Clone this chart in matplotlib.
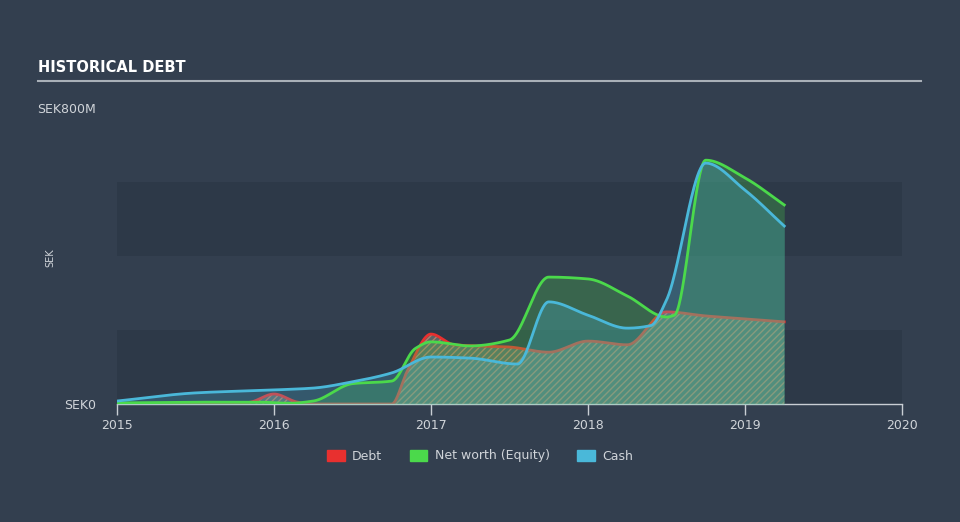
import numpy as np
import matplotlib
matplotlib.use('Agg')
import matplotlib.pyplot as plt
from matplotlib.patches import Patch

# values in SEK millions
debt_x = [2015.0, 2015.75, 2015.85, 2016.0, 2016.15, 2016.25, 2016.75, 2016.85, 2017.0, 2017.15,
	2017.5, 2017.75, 2018.0, 2018.25, 2018.5, 2018.75, 2019.0, 2019.25]
debt_y = [0, 0, 5, 27, 5, 0, 0, 90, 189, 160, 154, 140, 170, 160, 249, 238, 230, 222]

equity_x = [2015.0, 2015.5, 2015.9, 2016.1, 2016.25, 2016.5, 2016.75, 2016.9, 2017.0, 2017.25,
	2017.5, 2017.75, 2018.0, 2018.25, 2018.5, 2018.55, 2018.75, 2019.0, 2019.25]
equity_y = [3, 5, 5, 2, 8, 55, 62, 150, 168, 157, 173, 343, 338, 292, 235, 240, 659, 611, 538]

cash_x = [2015.0, 2015.5, 2016.0, 2016.25, 2016.5, 2016.75, 2017.0, 2017.25, 2017.55,
	2017.75, 2018.0, 2018.25, 2018.4, 2018.5, 2018.75, 2019.0, 2019.25]
cash_y = [8, 30, 38, 43, 60, 84, 127, 124, 108, 276, 240, 205, 212, 281, 651, 578, 481]

year_ticks = [2015, 2016, 2017, 2018, 2019, 2020]

BG = '#333f4f'
BAND = '#2d3948'
TXT = '#d0d4d9'
DEBT_C = '#e8302f'
EQ_C = '#4bd94b'
CASH_C = '#4ab8d9'


def pchip(x, y, xs):
	# monotone cubic, like the smoothed lines in the source chart
	x = np.asarray(x, float)
	y = np.asarray(y, float)
	h = np.diff(x)
	d = np.diff(y) / h
	m = np.zeros_like(y)
	for k in range(1, len(x) - 1):
		if d[k - 1] * d[k] > 0:
			w1 = 2 * h[k] + h[k - 1]
			w2 = h[k] + 2 * h[k - 1]
			m[k] = (w1 + w2) / (w1 / d[k - 1] + w2 / d[k])
	m[0] = d[0]
	m[-1] = d[-1]
	idx = np.clip(np.searchsorted(x, xs) - 1, 0, len(x) - 2)
	t = (xs - x[idx]) / h[idx]
	h00 = 2 * t**3 - 3 * t**2 + 1
	h10 = t**3 - 2 * t**2 + t
	h01 = -2 * t**3 + 3 * t**2
	h11 = t**3 - t**2
	return h00 * y[idx] + h10 * h[idx] * m[idx] + h01 * y[idx + 1] + h11 * h[idx] * m[idx + 1]


xs = np.linspace(2015.0, 2019.25, 800)
debt_s = pchip(debt_x, debt_y, xs)
eq_s = pchip(equity_x, equity_y, xs)
cash_s = pchip(cash_x, cash_y, xs)

plt.rcParams['hatch.linewidth'] = 1.0

fig = plt.figure(figsize=(9.6, 5.22), dpi=100)
fig.patch.set_facecolor(BG)
ax = fig.add_axes([117 / 960, 1 - 404 / 522, 785 / 960, 296 / 522])
ax.set_facecolor(BG)

ax.axhspan(0, 200, color=BAND, zorder=0, lw=0)
ax.axhspan(400, 600, color=BAND, zorder=0, lw=0)

ax.fill_between(xs, 0, debt_s, facecolor='#5a6466', edgecolor='#b77a66', hatch='/////', lw=0, zorder=1)
ax.plot(xs, debt_s, color=DEBT_C, lw=2, zorder=2)
ax.fill_between(xs, 0, eq_s, color=EQ_C, alpha=0.25, lw=0, zorder=3)
ax.fill_between(xs, 0, cash_s, color=CASH_C, alpha=0.25, lw=0, zorder=3)
ax.plot(xs, eq_s, color=EQ_C, lw=2, zorder=4)
ax.plot(xs, cash_s, color=CASH_C, lw=2, zorder=5)

ax.set_xlim(2015, 2020)
ax.set_ylim(0, 800)
ax.set_xticks(year_ticks)
ax.set_xticklabels([str(y) for y in year_ticks])
ax.set_yticks([0, 800])
ax.set_yticklabels(['SEK0', 'SEK800M'])
ax.tick_params(axis='x', colors='#c9ced4', labelcolor=TXT, labelsize=9, length=8, width=1, direction='out', pad=3)
ax.tick_params(axis='y', length=0, labelcolor=TXT, labelsize=9, pad=15)
for s in ['top', 'right', 'left']:
	ax.spines[s].set_visible(False)
ax.spines['bottom'].set_color('#c9ced4')
ax.spines['bottom'].set_linewidth(1)

fig.text(50 / 960, 1 - 258 / 522, 'SEK', rotation=90, color=TXT, fontsize=7, ha='center', va='center')

fig.text(38 / 960, 1 - 68 / 522, 'HISTORICAL DEBT', color='white', fontsize=10.5, fontweight='bold',
	family=['DejaVu Sans Condensed', 'Liberation Sans Narrow', 'DejaVu Sans'], va='center', ha='left')
fig.add_artist(plt.Line2D([38 / 960, 921 / 960], [1 - 81 / 522, 1 - 81 / 522], color='#a9b0b8', lw=1.5))

handles = [Patch(color=DEBT_C, label='Debt'), Patch(color=EQ_C, label='Net worth (Equity)'),
	Patch(color=CASH_C, label='Cash')]
leg = fig.legend(handles=handles, loc='center', bbox_to_anchor=(0.5, 1 - 456 / 522), ncol=3,
	frameon=False, fontsize=9, labelcolor=TXT, handlelength=1.4, handleheight=1.0,
	columnspacing=2.2, handletextpad=0.6)

fig.savefig('out.png', dpi=100, facecolor=BG)
